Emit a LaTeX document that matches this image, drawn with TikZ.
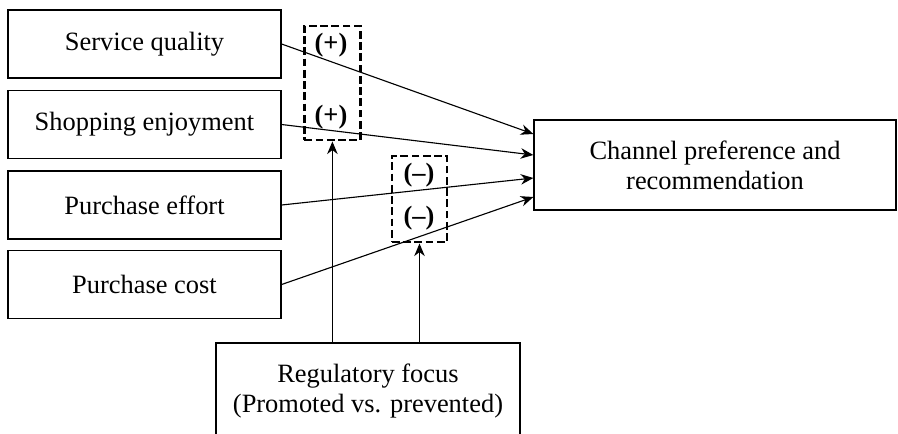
\documentclass[tikz,border=0pt]{standalone}
\usepackage{fontspec}
\setmainfont{Liberation Serif}
\usetikzlibrary{arrows.meta,positioning}

\begin{document}
\begin{tikzpicture}[
    factor/.style={draw, line width=0.9pt, minimum width=6.825cm, minimum height=1.7cm, align=center, font=\fontsize{18.8}{21.3}\selectfont},
    modbox/.style={draw, line width=2.1pt, dash pattern=on 5.5pt off 2.5pt},
    sign/.style={font=\fontsize{18.8}{21.3}\selectfont\bfseries},
    link/.style={->, line width=0.8pt},
    >={Stealth[length=9pt,width=7.5pt]}
]
    \clip (0,0) rectangle (22.45,-10.85);

    % Left column - antecedents
    \node[factor] (quality) at (3.6125,-1.1) {Service quality};
    \node[factor] (enjoy) at (3.6125,-3.1125) {Shopping enjoyment};
    \node[factor] (effort) at (3.6125,-5.125) {Purchase effort};
    \node[factor] (cost) at (3.6125,-7.1125) {Purchase cost};

    % Outcome and moderator
    \node[factor, minimum width=9.05cm, minimum height=2.25cm] (channel) at (17.875,-4.125) {Channel preference and\\recommendation};
    \node[factor, minimum width=7.6cm, minimum height=2.4cm] (focus) at (9.2,-9.775) {Regulatory focus\\(Promoted vs. prevented)};

    % Dashed moderation boxes
    \node[modbox, minimum width=1.4cm, minimum height=2.85cm] (modpos) at (8.31,-2.075) {};
    \node[modbox, minimum width=1.375cm, minimum height=2.15cm] (modneg) at (10.4875,-4.975) {};

    \node[sign] (posa) at (8.275,-1.125) {(+)};
    \node[sign] (posb) at (8.275,-2.925) {(+)};
    \node[sign] (nega) at (10.475,-4.375) {(–)};
    \node[sign] (negb) at (10.475,-5.45) {(–)};

    % Arrows
    \draw[link] (quality.east) -- ([yshift=0.775cm]channel.west);
    \draw[link] (enjoy.east) -- ([yshift=0.25cm]channel.west);
    \draw[link] (effort.east) -- ([yshift=-0.325cm]channel.west);
    \draw[link] (cost.east) -- ([yshift=-0.8cm]channel.west);
    \draw[link] (focus.north -| modpos.south) -- (modpos.south);
    \draw[link] (focus.north -| modneg.south) -- (modneg.south);
\end{tikzpicture}
\end{document}
